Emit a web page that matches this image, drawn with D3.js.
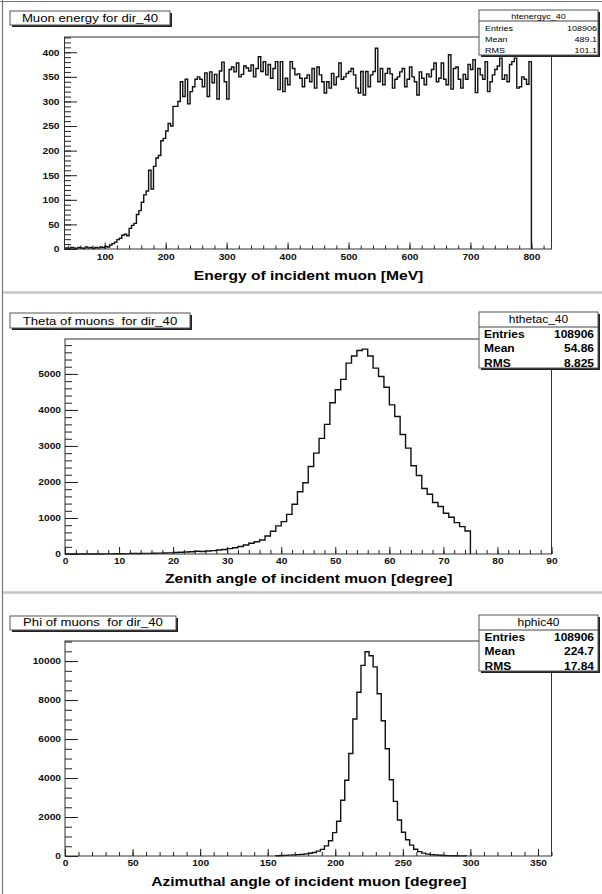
<!DOCTYPE html>
<html><head><meta charset="utf-8">
<script src="https://cdn.jsdelivr.net/npm/d3@7"></script>
<style>
html,body{margin:0;padding:0;background:#fff;}
svg{display:block;font-family:"Liberation Sans",Arial,Helvetica,sans-serif;}
text{white-space:pre;}
</style></head><body>
<svg id="c" width="602" height="894"></svg>
<script>
// ---------------- DATA ----------------
const statNames = ["Entries", "Mean", "RMS"];

// Panel 1: muon energy (4 MeV bins starting at 36 MeV)
const energyLow = 36, energyWidth = 4;
const energyCounts = [
  2,1,3,2,1,3,2,1,4,2,3,1,3,2,4,3,
  5,4,8,11,14,19,22,28,30,27,42,48,52,70,78,95,110,118,160,122,168,185,190,220,225,
  240,255,250,290,290,300,340,310,345,295,320,330,345,350,345,330,358,310,360,338,355,305,362,380,340,
  305,365,370,360,378,350,355,372,368,362,374,350,367,391,361,381,354,375,347,367,381,324,381,320,347,
  334,381,367,354,356,347,330,347,354,340,367,327,370,354,340,317,340,327,357,334,350,378,345,350,357,
  361,367,354,327,317,361,313,361,330,354,361,408,340,367,334,357,367,356,327,345,350,360,367,330,345,
  370,350,340,313,360,347,334,356,350,365,378,340,347,378,345,334,395,325,367,370,345,327,355,345,375,
  365,385,318,367,354,345,381,320,340,354,365,372,388,345,354,340,375,381,388,327,330,350,345,335,381
];
const energyXTicks = [100,200,300,400,500,600,700,800];
const energyYTicks = [0,50,100,150,200,250,300,350,400];
const energyTitle = "Muon energy for dir_40";
const energyStatHeader = "htenergyc_40";
const energyStats = ["108906", "489.1", "101.1"];
const energyAxisTitle = "Energy of incident muon [MeV]";

// Panel 2: theta (1 degree bins from 0)
const thetaLow = 0, thetaWidth = 1;
const thetaCounts = [
  0,0,0,1,1,2,2,3,4,6, 8,10,12,14,16,18,20,24,28,32,
  40,48,55,62,75,70,85,95,110,125, 150,175,210,250,300,340,
  390,500,630,780,900,1100,1380,1730,1980,2430,
  2800,3210,3600,4200,4560,4850,5300,5500,5650,5690,
  5500,5160,4930,4630,4140,3820,3320,2940,2450,2180,
  1820,1660,1430,1320,1130,1020,870,760,640
];
const thetaXTicks = [0,10,20,30,40,50,60,70,80,90];
const thetaYTicks = [0,1000,2000,3000,4000,5000];
const thetaTitle = "Theta of muons  for dir_40";
const thetaStatHeader = "hthetac_40";
const thetaStats = ["108906", "54.86", "8.825"];
const thetaAxisTitle = "Zenith angle of incident muon [degree]";

// Panel 3: phi (3 degree bins from 156)
const phiLow = 156, phiWidth = 3;
const phiCounts = [
  10,25,30,45,60,70,85,110,140,180,
  250,340,520,780,1200,1780,2860,3890,5260,7030,
  8400,9780,10480,10270,9700,8320,6940,5500,3910,2800,
  1845,1220,835,560,350,225,145,95,70,50,
  35,25,20,15,12,8,5
];
const phiXTicks = [0,50,100,150,200,250,300,350];
const phiYTicks = [0,2000,4000,6000,8000,10000];
const phiTitle = "Phi of muons  for dir_40";
const phiStatHeader = "hphic40";
const phiStats = ["108906", "224.7", "17.84"];
const phiAxisTitle = "Azimuthal angle of incident muon [degree]";

// ---------------- LAYOUT ----------------
const SX = 1.2; // horizontal stretch of all text
const panels = [
  { counts: energyCounts, low: energyLow, width: energyWidth,
    xDomain: [34, 833], yDomain: [0, 431],
    frame: {l: 64.5, r: 551.5, t: 37, b: 249},
    xTicks: energyXTicks, yTicks: energyYTicks, xMinorStep: 20, yMinorStep: 10,
    xMinorFrom: 40, yMinorTo: 430,
    xLen: [6.5, 3.5], yLen: [12.5, 6.5], xLabOff: 11, yLabOff: 5,
    title: energyTitle, tBox: {x: 10, y: 11, w: 160, h: 14}, tBase: 22,
    sHeader: energyStatHeader, sVals: energyStats,
    sBox: {y: 10, h: 45}, sHeadBase: 19, sSep: 21, sRows: [30.5, 41.5, 53],
    sSize: 7.5, sWeight: "normal", sHeadSize: 7.5, sLeft: 485, sRight: 597,
    axisTitle: energyAxisTitle, axisTitleBase: 280 },
  { counts: thetaCounts, low: thetaLow, width: thetaWidth,
    xDomain: [0, 90], yDomain: [0, 5970],
    frame: {l: 65, r: 551.5, t: 339, b: 554},
    xTicks: thetaXTicks, yTicks: thetaYTicks, xMinorStep: 2, yMinorStep: 200,
    xMinorFrom: 0, yMinorTo: 5900,
    xLen: [7, 4], yLen: [13, 7], xLabOff: 10, yLabOff: 4,
    title: thetaTitle, tBox: {x: 10, y: 313, w: 180, h: 15}, tBase: 324.5,
    sHeader: thetaStatHeader, sVals: thetaStats,
    sBox: {y: 312, h: 56}, sHeadBase: 323, sSep: 327, sRows: [337.5, 352, 366.5],
    sSize: 10, sWeight: "bold", sHeadSize: 10, sLeft: 484, sRight: 594,
    axisTitle: thetaAxisTitle, axisTitleBase: 582.5 },
  { counts: phiCounts, low: phiLow, width: phiWidth,
    xDomain: [0, 360], yDomain: [0, 11030],
    frame: {l: 65, r: 551.5, t: 641, b: 856},
    xTicks: phiXTicks, yTicks: phiYTicks, xMinorStep: 10, yMinorStep: 500,
    xMinorFrom: 0, yMinorTo: 11000,
    xLen: [7, 4], yLen: [13, 7], xLabOff: 10.5, yLabOff: 4,
    title: phiTitle, tBox: {x: 10, y: 616, w: 166, h: 14}, tBase: 626,
    sHeader: phiStatHeader, sVals: phiStats,
    sBox: {y: 615, h: 56}, sHeadBase: 626, sSep: 630, sRows: [640.5, 655, 669.5],
    sSize: 10, sWeight: "bold", sHeadSize: 10, sLeft: 484.5, sRight: 594,
    axisTitle: phiAxisTitle, axisTitleBase: 886 }
];

const svg = d3.select("#c");
const FONT = '"Liberation Sans",Arial,Helvetica,sans-serif';

function stext(g, x, y, str, o) {
  o = o || {};
  return g.append("g").attr("transform", `translate(${x},${y}) scale(${SX},1)`)
    .append("text").text(str)
    .attr("font-size", o.size || 10)
    .attr("font-weight", o.weight || "normal")
    .attr("text-anchor", o.anchor || "start")
    .attr("fill", o.fill || "#000");
}

function shadowBox(g, x, y, w, h) {
  g.append("rect").attr("x", x + 2).attr("y", y + 2).attr("width", w).attr("height", h)
    .attr("fill", "#222");
  g.append("rect").attr("x", x).attr("y", y).attr("width", w).attr("height", h)
    .attr("fill", "#fff").attr("stroke", "#555").attr("stroke-width", 1);
}

// canvas borders
svg.append("line").attr("x1", 0).attr("x2", 602).attr("y1", 1.5).attr("y2", 1.5)
  .attr("stroke", "#777").attr("stroke-width", 1.2);
svg.append("line").attr("x1", 2.5).attr("x2", 2.5).attr("y1", 0).attr("y2", 894)
  .attr("stroke", "#777").attr("stroke-width", 1.2);
[292.5, 592.5].forEach(yy => {
  svg.append("line").attr("x1", 3).attr("x2", 602).attr("y1", yy).attr("y2", yy)
    .attr("stroke", "#c4c4c4").attr("stroke-width", 2.5);
});

function styleAxis(ax) {
  ax.attr("font-family", FONT).attr("color", "#222");
  ax.select(".domain").remove();
  ax.selectAll(".tick line").attr("stroke-width", 1);
}

panels.forEach(p => {
  const g = svg.append("g");
  const x = d3.scaleLinear().domain(p.xDomain).range([p.frame.l, p.frame.r]);
  const y = d3.scaleLinear().domain(p.yDomain).range([p.frame.b, p.frame.t]);

  // histogram outline
  let d = `M${x(p.low)},${y(0)}`;
  p.counts.forEach((c, i) => {
    d += `V${y(c)}H${x(p.low + (i + 1) * p.width)}`;
  });
  d += `V${y(0)}`;
  g.append("path").attr("d", d).attr("fill", "none")
    .attr("stroke", "#111").attr("stroke-width", 1.4);

  // frame
  g.append("rect").attr("x", p.frame.l).attr("y", p.frame.t)
    .attr("width", p.frame.r - p.frame.l).attr("height", p.frame.b - p.frame.t)
    .attr("fill", "none").attr("stroke", "#333").attr("stroke-width", 1);

  // minor ticks
  const xMin = d3.range(p.xMinorFrom, p.xDomain[1] + 1e-9, p.xMinorStep);
  const yMin = d3.range(0, p.yMinorTo + 1e-9, p.yMinorStep);
  const axm = g.append("g").attr("transform", `translate(0,${p.frame.b})`)
    .call(d3.axisBottom(x).tickValues(xMin).tickSize(-p.xLen[1]).tickFormat(""));
  styleAxis(axm);
  const aym = g.append("g").attr("transform", `translate(${p.frame.l},0)`)
    .call(d3.axisLeft(y).tickValues(yMin).tickSize(-p.yLen[1]).tickFormat(""));
  styleAxis(aym);

  // major ticks + labels
  const ax = g.append("g").attr("transform", `translate(0,${p.frame.b})`)
    .call(d3.axisBottom(x).tickValues(p.xTicks).tickSize(-p.xLen[0]).tickFormat(d3.format("d")));
  styleAxis(ax);
  ax.selectAll(".tick text").attr("y", p.xLabOff).attr("dy", null)
    .attr("font-size", 8.5).attr("font-weight", "bold").attr("fill", "#111")
    .attr("transform", `scale(${SX},1)`);

  const ay = g.append("g").attr("transform", `translate(${p.frame.l},0)`)
    .call(d3.axisLeft(y).tickValues(p.yTicks).tickSize(-p.yLen[0]).tickFormat(d3.format("d")));
  styleAxis(ay);
  ay.selectAll(".tick text").attr("x", -p.yLabOff / SX).attr("dy", "0.34em")
    .attr("font-size", 8.5).attr("font-weight", "bold").attr("fill", "#111")
    .attr("transform", `scale(${SX},1)`);

  // axis title
  stext(g, (p.frame.l + p.frame.r) / 2 + 0.5, p.axisTitleBase, p.axisTitle,
    {size: 13, weight: "bold", anchor: "middle"});

  // title box
  shadowBox(g, p.tBox.x, p.tBox.y, p.tBox.w, p.tBox.h);
  stext(g, p.tBox.x + p.tBox.w / 2, p.tBase, p.title, {size: 11, anchor: "middle"});

  // stats box
  const sx0 = 479, sw = 119;
  shadowBox(g, sx0, p.sBox.y, sw, p.sBox.h);
  g.append("line").attr("x1", sx0).attr("x2", sx0 + sw).attr("y1", p.sSep).attr("y2", p.sSep)
    .attr("stroke", "#444").attr("stroke-width", 1);
  stext(g, sx0 + sw / 2, p.sHeadBase, p.sHeader, {size: p.sHeadSize, anchor: "middle"});
  statNames.forEach((n, i) => {
    stext(g, p.sLeft, p.sRows[i], n, {size: p.sSize, weight: p.sWeight});
    stext(g, p.sRight, p.sRows[i], p.sVals[i], {size: p.sSize, weight: p.sWeight, anchor: "end"});
  });
});
</script>
</body></html>
